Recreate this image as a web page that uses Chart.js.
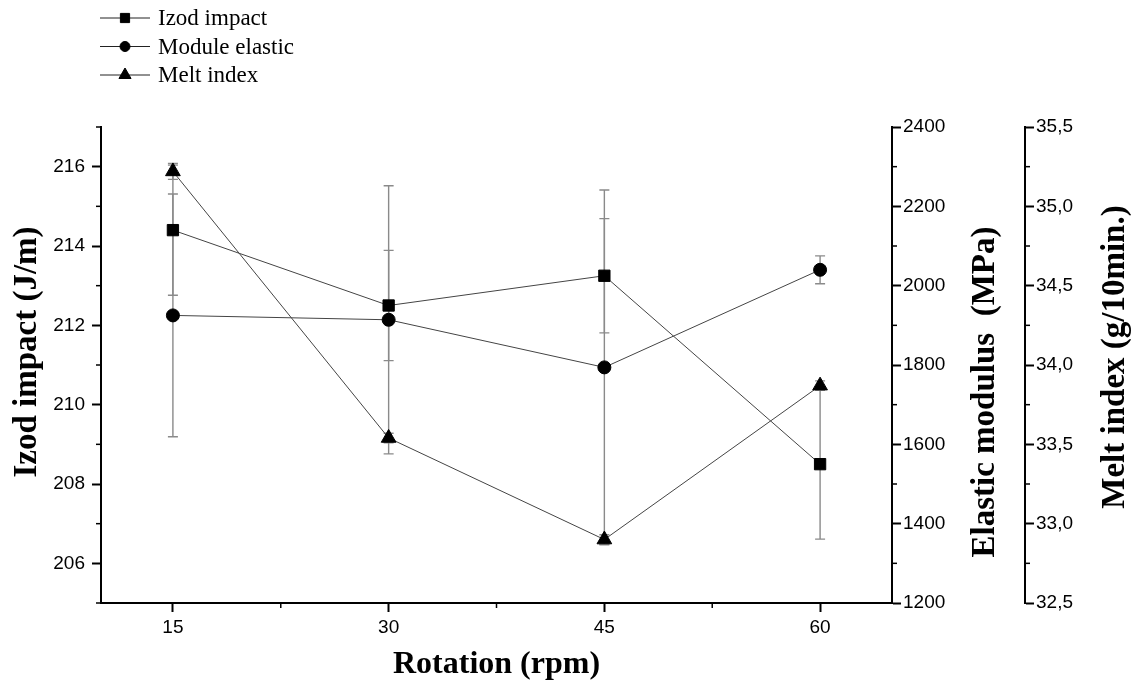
<!DOCTYPE html>
<html>
<head>
<meta charset="utf-8">
<title>Rotation vs properties</title>
<script src="https://cdn.jsdelivr.net/npm/chart.js@4/dist/chart.umd.min.js"></script>
<style>
  html, body { margin: 0; padding: 0; background: #fff; }
  canvas { display: block; }
</style>
</head>
<body>
<canvas id="chart" width="1131" height="686"></canvas>
<script>
// Data
const rotation = [15, 30, 45, 60];
const izod = [214.4, 212.5, 213.25, 208.5];
const izodErr = [1.64, 1.39, 1.44, 1.89];
const modulus = [1925, 1914, 1794, 2040];
const modulusErr = [306, 338, 447, 35];
const melt = [35.22, 33.54, 32.9, 33.87];
const meltErr = [0.05, 0.03, 0.03, 0.03];

// Tick labels
const xTicks = [15, 30, 45, 60];
const izodTicks = [206, 208, 210, 212, 214, 216];
const modulusTicks = [1200, 1400, 1600, 1800, 2000, 2200, 2400];
const meltTicks = [32.5, 33.0, 33.5, 34.0, 34.5, 35.0, 35.5];

const seriesNames = ['Izod impact', 'Module elastic', 'Melt index'];
const xTitle = 'Rotation (rpm)';
const izodTitle = 'Izod impact (J/m)';
const modulusTitle = 'Elastic modulus  (MPa)';
const meltTitle = 'Melt index (g/10min.)';

const tickFont = { family: 'Liberation Sans, Arial, sans-serif', size: 19 };
const titleFont = 'bold 33px "Liberation Serif", "Times New Roman", serif';

function setTicks(values) {
    return scale => { scale.ticks = values.map(v => ({ value: v })); };
}

function axisStyle(extra) {
    return Object.assign({
        type: 'linear',
        border: { display: true, color: '#000', width: 2 },
        grid: { display: true, drawOnChartArea: false, drawTicks: true, tickLength: 9, color: '#000', tickColor: '#000', tickWidth: 2 },
        ticks: { color: '#000', font: tickFont, padding: 4 }
    }, extra);
}

// error bars drawn under the lines
const errorBars = {
    id: 'errorBars',
    beforeDatasetsDraw(chart) {
        const ctx = chart.ctx;
        ctx.save();
        ctx.strokeStyle = '#8a8a8a';
        ctx.lineWidth = 1.4;
        chart.data.datasets.forEach(ds => {
            const ys = chart.scales[ds.yAxisID];
            const xs = chart.scales.x;
            ds.data.forEach((pt, j) => {
                const e = ds.err[j];
                const x = xs.getPixelForValue(pt.x);
                const top = ys.getPixelForValue(pt.y + e);
                const bot = ys.getPixelForValue(pt.y - e);
                ctx.beginPath();
                ctx.moveTo(x, top); ctx.lineTo(x, bot);
                ctx.moveTo(x - 5, top); ctx.lineTo(x + 5, top);
                ctx.moveTo(x - 5, bot); ctx.lineTo(x + 5, bot);
                ctx.stroke();
            });
        });
        ctx.restore();
    }
};

// minor ticks halfway between the major ones
const minorTicks = {
    id: 'minorTicks',
    afterDraw(chart) {
        const ctx = chart.ctx;
        ctx.save();
        ctx.strokeStyle = '#000';
        ctx.lineWidth = 1.5;
        ['x', 'yIzod', 'yMod', 'yMelt'].forEach(id => {
            const s = chart.scales[id];
            const t = s.ticks.map(k => k.value);
            const step = t[1] - t[0];
            for (let v = t[0] - step / 2; v <= s.max + 1e-9; v += step) {
                if (v < s.min - 1e-9) continue;
                const p = s.getPixelForValue(v);
                ctx.beginPath();
                if (id === 'x') { ctx.moveTo(p, s.top); ctx.lineTo(p, s.top + 5); }
                else if (s.position === 'left') { ctx.moveTo(s.right, p); ctx.lineTo(s.right - 5, p); }
                else { ctx.moveTo(s.left, p); ctx.lineTo(s.left + 5, p); }
                ctx.stroke();
            }
        });
        ctx.restore();
    }
};

// y axis titles, all read bottom to top
const yTitles = {
    id: 'yTitles',
    afterDraw(chart) {
        const ctx = chart.ctx;
        const a = chart.chartArea;
        const mid = (a.top + a.bottom) / 2;
        const items = [
            { text: izodTitle, x: chart.scales.yIzod.left + 27, y: mid - 13 },
            { text: modulusTitle, x: chart.scales.yMod.left + 93, y: mid + 27 },
            { text: meltTitle, x: chart.scales.yMelt.left + 90, y: mid - 8 }
        ];
        ctx.save();
        ctx.fillStyle = '#000';
        ctx.font = titleFont;
        ctx.textAlign = 'center';
        ctx.textBaseline = 'middle';
        items.forEach(it => {
            ctx.save();
            ctx.translate(it.x, it.y);
            ctx.rotate(-Math.PI / 2);
            ctx.fillText(it.text, 0, 0);
            ctx.restore();
        });
        ctx.restore();
    }
};

// legend: line with marker, text on the right
const lineLegend = {
    id: 'lineLegend',
    afterDraw(chart) {
        const ctx = chart.ctx;
        ctx.save();
        chart.data.datasets.forEach((ds, i) => {
            const y = 18 + i * 28.5;
            ctx.strokeStyle = '#222';
            ctx.lineWidth = 1;
            ctx.beginPath();
            ctx.moveTo(100, y); ctx.lineTo(150, y);
            ctx.stroke();
            ctx.fillStyle = '#000';
            ctx.strokeStyle = '#000';
            Chart.helpers.drawPoint(ctx, { pointStyle: ds.pointStyle, radius: ds.pointRadius - 1.5, borderWidth: 1 }, 125, y);
            ctx.font = '23px "Liberation Serif", "Times New Roman", serif';
            ctx.textAlign = 'left';
            ctx.textBaseline = 'middle';
            ctx.fillText(ds.label, 158, y + 1);
        });
        ctx.restore();
    }
};

function series(label, data, err, axis, style, radius) {
    return {
        label: label,
        data: data.map((v, i) => ({ x: rotation[i], y: v })),
        err: err,
        yAxisID: axis,
        borderColor: '#444',
        borderWidth: 1,
        pointStyle: style,
        pointRadius: radius,
        pointBackgroundColor: '#000',
        pointBorderColor: '#000',
        pointBorderWidth: 1,
        tension: 0
    };
}

const ctx = document.getElementById('chart');
new Chart(ctx, {
    type: 'line',
    data: {
        datasets: [
            series(seriesNames[0], izod, izodErr, 'yIzod', 'rect', 8),
            series(seriesNames[1], modulus, modulusErr, 'yMod', 'circle', 6.5),
            series(seriesNames[2], melt, meltErr, 'yMelt', 'triangle', 8.5)
        ]
    },
    options: {
        responsive: false,
        animation: false,
        layout: { padding: { top: 127, left: 0, right: 0, bottom: 0 } },
        plugins: { legend: { display: false }, tooltip: { enabled: false } },
        scales: {
            x: axisStyle({
                position: 'bottom',
                min: 10, max: 65,
                afterBuildTicks: setTicks(xTicks),
                afterFit: s => { s.height = 83; },
                ticks: { color: '#000', font: tickFont, padding: 4, maxRotation: 0 },
                title: { display: true, text: xTitle, color: '#000',
                    font: { family: 'Liberation Serif, Times New Roman, serif', size: 32, weight: 'bold' },
                    padding: { top: 0, bottom: 2 } }
            }),
            yIzod: axisStyle({
                position: 'left',
                min: 205, max: 217,
                afterBuildTicks: setTicks(izodTicks),
                afterFit: s => { s.width = 101; },
                ticks: { color: '#000', font: tickFont, padding: 7 }
            }),
            yMod: axisStyle({
                position: 'right',
                weight: 1,
                min: 1200, max: 2400,
                afterBuildTicks: setTicks(modulusTicks),
                afterFit: s => { s.width = 133; },
                ticks: { color: '#000', font: tickFont, padding: 2, callback: v => String(v) }
            }),
            yMelt: axisStyle({
                position: 'right',
                weight: 2,
                min: 32.5, max: 35.5,
                afterBuildTicks: setTicks(meltTicks),
                afterFit: s => { s.width = 106; },
                ticks: { color: '#000', font: tickFont, padding: 2,
                    callback: v => v.toFixed(1).replace('.', ',') }
            })
        }
    },
    plugins: [errorBars, minorTicks, yTitles, lineLegend]
});
</script>
</body>
</html>
